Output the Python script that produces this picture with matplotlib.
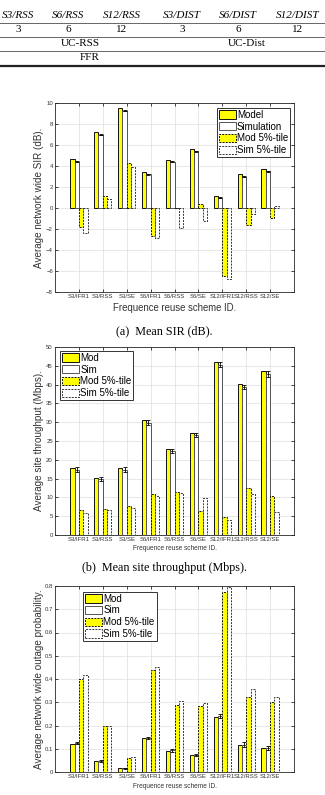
import matplotlib
matplotlib.use('Agg')
import matplotlib.pyplot as plt
import numpy as np
from matplotlib.lines import Line2D

plt.rcParams['font.family'] = ['Liberation Sans', 'DejaVu Sans']

# table fragment above the figure
tab_header = ['S3/RSS', 'S6/RSS', 'S12/RSS', 'S3/DIST', 'S6/DIST', 'S12/DIST']
tab_reuse = ['3', '6', '12', '3', '6', '12']
tab_groups = ['UC-RSS', 'UC-Dist']
tab_last = 'FFR'

schemes = ['S3/IFR1', 'S3/RSS', 'S3/SE', 'S6/IFR1', 'S6/RSS', 'S6/SE',
           'S12/IFR1', 'S12/RSS', 'S12/SE']

# (a) mean SIR (dB)
sir_mod = [4.62, 7.2, 9.49, 3.41, 4.59, 5.64, 1.15, 3.22, 3.73]
sir_sim = [4.39, 7.0, 9.27, 3.22, 4.39, 5.41, 0.99, 2.99, 3.5]
sir_mod5 = [-1.85, 1.11, 4.24, -2.64, -0.02, 0.41, -6.46, -1.62, -0.92]
sir_sim5 = [-2.39, 0.83, 3.95, -2.87, -1.91, -1.27, -6.78, -0.54, 0.19]
sir_err = [0.05, 0.05, 0.05, 0.05, 0.05, 0.05, 0.05, 0.05, 0.05]

# (b) mean site throughput (Mbps)
thr_mod = [17.8, 15.2, 17.8, 30.5, 22.8, 27.1, 46.0, 40.1, 43.5]
thr_sim = [17.4, 14.8, 17.4, 29.9, 22.4, 26.6, 45.3, 39.4, 42.8]
thr_mod5 = [6.6, 7.0, 7.6, 11.0, 11.5, 6.4, 4.9, 12.4, 10.4]
thr_sim5 = [5.9, 6.7, 7.2, 10.5, 11.2, 9.9, 4.1, 10.9, 6.2]
thr_err = [0.6, 0.5, 0.6, 0.7, 0.6, 0.6, 0.7, 0.6, 0.7]

# (c) outage probability
out_mod = [0.121, 0.048, 0.016, 0.146, 0.091, 0.071, 0.238, 0.114, 0.103]
out_sim = [0.124, 0.047, 0.016, 0.146, 0.093, 0.073, 0.240, 0.117, 0.104]
out_mod5 = [0.399, 0.200, 0.062, 0.440, 0.290, 0.285, 0.773, 0.324, 0.303]
out_sim5 = [0.417, 0.200, 0.063, 0.453, 0.305, 0.297, 0.794, 0.356, 0.321]
out_err = [0.004, 0.003, 0.002, 0.006, 0.006, 0.005, 0.009, 0.010, 0.009]

W, H = 325, 795
fig = plt.figure(figsize=(W / 100, H / 100), dpi=100)


def fy(py):
    return 1 - py / H


def fx(px):
    return px / W


# --- table fragment ---
serif = ['Liberation Serif', 'DejaVu Serif']
col_x = [18, 68, 122, 182, 238, 298]
for x, t in zip(col_x, tab_header):
    fig.text(fx(x), fy(15.5), t, ha='center', va='center', family=serif,
             style='italic', fontsize=8)
for x, t in zip(col_x, tab_reuse):
    fig.text(fx(x), fy(30), t, ha='center', va='center', family=serif, fontsize=8)
fig.text(fx(80), fy(44), tab_groups[0], ha='center', va='center', family=serif, fontsize=8)
fig.text(fx(247), fy(44), tab_groups[1], ha='center', va='center', family=serif, fontsize=8)
fig.text(fx(90), fy(58), tab_last, ha='center', va='center', family=serif, fontsize=8)
for py, lw, c in [(22.7, 0.7, '#666666'), (37.3, 0.7, '#666666'),
                  (51, 0.7, '#666666'), (65.7, 1.6, '#222222')]:
    fig.add_artist(Line2D([0, 1], [fy(py), fy(py)], transform=fig.transFigure,
                          lw=lw, color=c))

offsets = [-0.273, -0.091, 0.091, 0.273]
bw = 0.182
x = np.arange(1, 10)


def draw(ax, mod, sim, mod5, sim5, err, labels, ylim, yticks, ylabel,
         leg_anchor, leg_loc):
    b1 = ax.bar(x + offsets[0], mod, bw, color='#ffff00', edgecolor='#111111', lw=0.7)
    b2 = ax.bar(x + offsets[1], sim, bw, color='white', edgecolor='#555555', lw=0.7)
    b3 = ax.bar(x + offsets[2], mod5, bw, color='#ffff00', edgecolor='#111111', lw=0.7,
                ls=(0, (2, 1.2)))
    b4 = ax.bar(x + offsets[3], sim5, bw, color='white', edgecolor='#333333', lw=0.7,
                ls=(0, (2, 1.2)))
    ax.errorbar(x + offsets[1], sim, yerr=err, fmt='none', ecolor='black',
                elinewidth=0.6, capsize=1.3, capthick=0.6)
    ax.set_xlim(0, 10)
    ax.set_ylim(*ylim)
    ax.set_yticks(yticks)
    ax.set_xticks(x)
    ax.set_xticklabels(schemes)
    ax.grid(True, color='#dedede', lw=0.5)
    ax.set_axisbelow(True)
    ax.tick_params(direction='in', length=2, width=0.5, top=True, right=True,
                   labelsize=4.3, labelcolor='#333333', pad=1.5)
    for s in ax.spines.values():
        s.set_linewidth(0.6)
        s.set_color('#262626')
    ax.set_ylabel(ylabel, fontsize=7.1, color='#333333')
    ax.yaxis.set_label_coords(-0.048, 0.5)
    leg = ax.legend([b1, b2, b3, b4], labels, loc=leg_loc, bbox_to_anchor=leg_anchor,
                    fontsize=7, fancybox=False, framealpha=1, edgecolor='#333333',
                    handlelength=1.75, handleheight=0.95, handletextpad=0.12,
                    labelspacing=0.18, borderpad=0.22, borderaxespad=0)
    leg.get_frame().set_linewidth(0.7)
    return ax


# (a)
ax1 = fig.add_axes([fx(55), fy(292), fx(239), 189 / H])
draw(ax1, sir_mod, sir_sim, sir_mod5, sir_sim5, sir_err,
     ['Model', 'Simulation', 'Mod 5%-tile', 'Sim 5%-tile'],
     (-8, 10), np.arange(-8, 11, 2), 'Average network wide SIR (dB).',
     (0.985, 0.975), 'upper right')
ax1.set_xlabel('Frequence reuse scheme ID.', fontsize=6.9, color='#333333')
ax1.xaxis.set_label_coords(0.5, -16 / 189)
ax1.xaxis.label.set_va('center')

# (b)
ax2 = fig.add_axes([fx(55), fy(535), fx(239), 188 / H])
draw(ax2, thr_mod, thr_sim, thr_mod5, thr_sim5, thr_err,
     ['Mod', 'Sim', 'Mod 5%-tile', 'Sim 5%-tile'],
     (0, 50), np.arange(0, 51, 5), 'Average site throughput (Mbps).',
     (0.02, 0.98), 'upper left')
ax2.set_xlabel('Frequence reuse scheme ID.', fontsize=4.7, color='#333333')
ax2.xaxis.set_label_coords(0.5, -14 / 188)
ax2.xaxis.label.set_va('center')

# (c)
ax3 = fig.add_axes([fx(55), fy(772), fx(239), 186 / H])
draw(ax3, out_mod, out_sim, out_mod5, out_sim5, out_err,
     ['Mod', 'Sim', 'Mod 5%-tile', 'Sim 5%-tile'],
     (0, 0.8), np.round(np.arange(0, 0.81, 0.1), 1),
     'Average network wide outage probability.',
     (0.117, 0.97), 'upper left')
ax3.set_yticklabels(['0', '0.1', '0.2', '0.3', '0.4', '0.5', '0.6', '0.7', '0.8'])
ax3.set_xlabel('Frequence reuse scheme ID.', fontsize=4.7, color='#333333')
ax3.xaxis.set_label_coords(0.5, -15 / 186)
ax3.xaxis.label.set_va('center')

# captions
fig.text(fx(164), fy(331), '(a)  Mean SIR (dB).', ha='center', va='center',
         family=serif, fontsize=8.7)
fig.text(fx(164), fy(568), '(b)  Mean site throughput (Mbps).', ha='center',
         va='center', family=serif, fontsize=8.7)

fig.savefig('out.png', dpi=100)
